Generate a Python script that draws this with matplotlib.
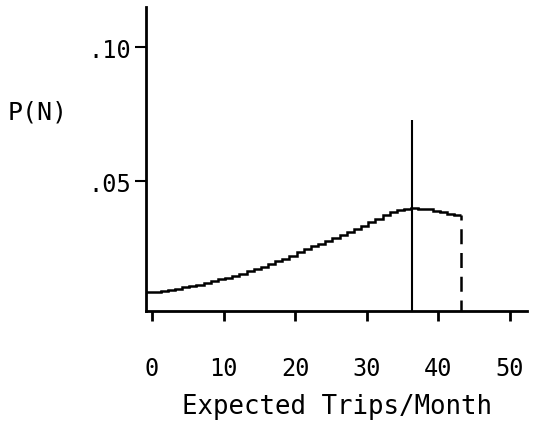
import numpy as np
import matplotlib
matplotlib.use("Agg")
import matplotlib.pyplot as plt

# Data
trips = np.arange(0, 44)  # step index N
p_values = [0.0085, 0.0087, 0.0090, 0.0094, 0.0098, 0.0103, 0.0108, 0.0114,
            0.0120, 0.0127, 0.0133, 0.0140, 0.0147, 0.0155, 0.0163, 0.0172,
            0.0181, 0.0190, 0.0200, 0.0210, 0.0222, 0.0234, 0.0245, 0.0256,
            0.0266, 0.0277, 0.0287, 0.0298, 0.0309, 0.0320, 0.0333, 0.0346,
            0.0360, 0.0373, 0.0385, 0.0391, 0.0395, 0.0398, 0.0397, 0.0394,
            0.0389, 0.0384, 0.0378, 0.0373]
step_start = -0.8
mean_line_x = 36.3
mean_line_top = 0.0729
cutoff_x = 43.2

x_ticks = [0, 10, 20, 30, 40, 50]
x_tick_labels = ["0", "10", "20", "30", "40", "50"]
y_ticks = [0.05, 0.10]
y_tick_labels = [".05", ".10"]

FONT = "DejaVu Sans Mono"
plt.rcParams['font.family'] = [FONT, 'DejaVu Sans']

fig = plt.figure(figsize=(5.33, 4.31), dpi=100)
ax = fig.add_axes([0.274, 0.276, 0.715, 0.705])

edges = step_start + np.arange(len(p_values) + 1)
ax.stairs(p_values, edges, color="black", linewidth=1.8, baseline=None)
ax.vlines(mean_line_x, 0, mean_line_top, color="black", linewidth=1.5)
ax.vlines(cutoff_x, 0, p_values[-1], color="black", linewidth=1.8,
          linestyles=(0, (6, 3.5)))

ax.set_xlim(-0.84, 52.4)
ax.set_ylim(0.0015, 0.1149)

for s in ["top", "right"]:
    ax.spines[s].set_visible(False)
for s in ["left", "bottom"]:
    ax.spines[s].set_linewidth(2.0)

ax.set_xticks(x_ticks)
ax.set_xticklabels(x_tick_labels, fontsize=17)
ax.set_yticks(y_ticks)
ax.set_yticklabels(y_tick_labels, fontsize=17)
ax.tick_params(axis="x", direction="out", length=7.5, width=2.0, pad=25)
ax.tick_params(axis="y", direction="out", length=8, width=1.5, pad=3)

ax.set_xlabel("Expected Trips/Month", fontsize=18.5, labelpad=9)
fig.text(0.07, 0.74, "P(N)", fontsize=18, ha="center", va="center")

fig.savefig("out.png", dpi=100)
